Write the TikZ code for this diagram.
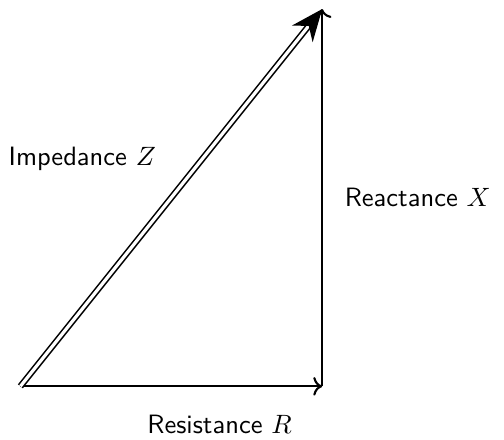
\documentclass[tikz,border=0pt]{standalone}
\usepackage{tikz}
\usetikzlibrary{calc, arrows.meta, positioning}
\usepackage{amsmath}

\begin{document}
\begin{tikzpicture}[font=\sffamily, side/.style={->, thick}, hyp/.style={-{Stealth[length=12pt, width=10pt]}, line width=0.6pt, double, double distance=1.2pt}]
\useasboundingbox (-0.27,-0.70) rectangle (6.41,5.12);
\coordinate (orig) at (0,0);
\coordinate (rend) at (4,0);
\coordinate (tip) at (4,5);
\draw[side] (orig) -- (rend);
\draw[side] (rend) -- (tip);
\draw[hyp] (orig) -- (tip);
\node (res) at (2.64,-0.51) {Resistance $R$};
\node[right=5pt of {$(rend)!0.5!(tip)$}] (reac) {Reactance $X$};
\node (imp) at (0.82,3.02) {Impedance $Z$};
\end{tikzpicture}
\end{document}
